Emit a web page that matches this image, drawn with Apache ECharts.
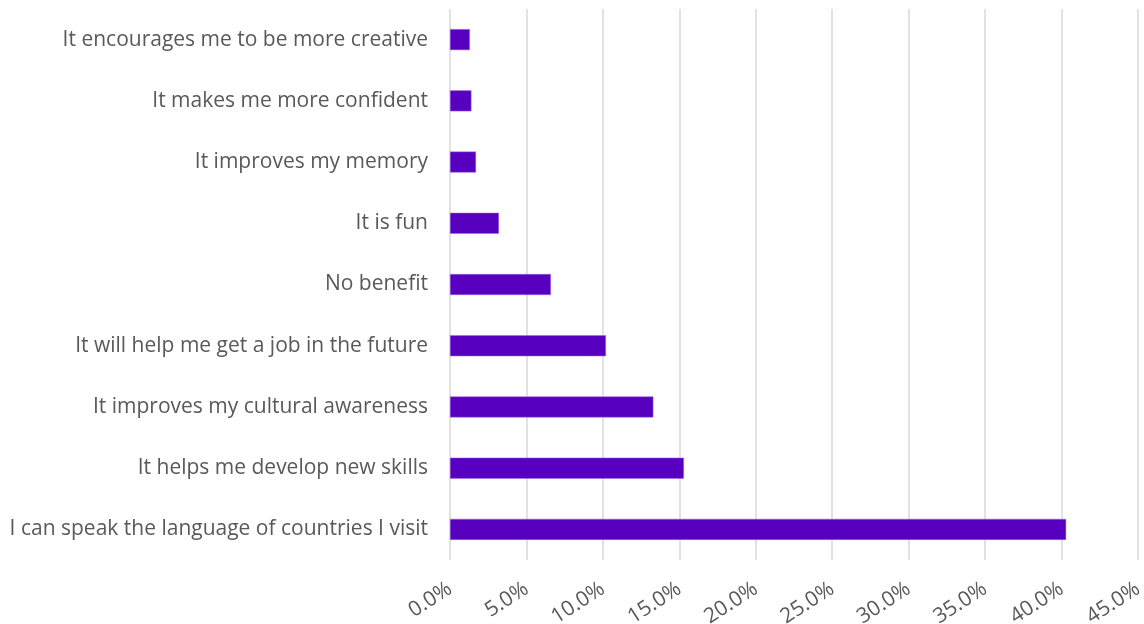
<!DOCTYPE html>
<html>
<head>
<meta charset="utf-8">
<script src="https://cdn.jsdelivr.net/npm/echarts@6/dist/echarts.min.js"></script>
<style>
  html, body { margin: 0; padding: 0; background: #fff; }
  #chart { width: 1144px; height: 624px; }
</style>
</head>
<body>
<div id="chart"></div>
<script>
// Reasons given for the benefit of learning a language (share of respondents)
const categories = [
  'I can speak the language of countries I visit',
  'It helps me develop new skills',
  'It improves my cultural awareness',
  'It will help me get a job in the future',
  'No benefit',
  'It is fun',
  'It improves my memory',
  'It makes me more confident',
  'It encourages me to be more creative'
];
const shares = [40.3, 15.3, 13.3, 10.2, 6.6, 3.2, 1.7, 1.4, 1.3];
const xTicks = { min: 0, max: 45, step: 5 };

const chart = echarts.init(document.getElementById('chart'));
chart.setOption({
  animation: false,
  grid: { left: 450, right: 6, top: 9, bottom: 64, containLabel: false, outerBoundsMode: 'none' },
  xAxis: {
    type: 'value',
    min: xTicks.min,
    max: xTicks.max,
    interval: xTicks.step,
    axisLine: { show: false },
    axisTick: { show: false },
    splitLine: { show: true, lineStyle: { color: '#d9d9d9', width: 1.5 } },
    axisLabel: {
      rotate: 33,
      margin: 27,
      color: '#595959',
      fontFamily: 'Open Sans',
      fontSize: 21,
      formatter: v => v.toFixed(1) + '%'
    }
  },
  yAxis: {
    type: 'category',
    data: categories,
    axisLine: { show: false },
    axisTick: { show: false },
    axisLabel: {
      margin: 22,
      color: '#595959',
      fontFamily: 'Open Sans',
      fontSize: 21
    }
  },
  series: [{
    type: 'bar',
    data: shares,
    barWidth: 21,
    itemStyle: { color: '#5800BF', borderColor: '#9a6be0', borderWidth: 0.5 }
  }]
});
</script>
</body>
</html>
